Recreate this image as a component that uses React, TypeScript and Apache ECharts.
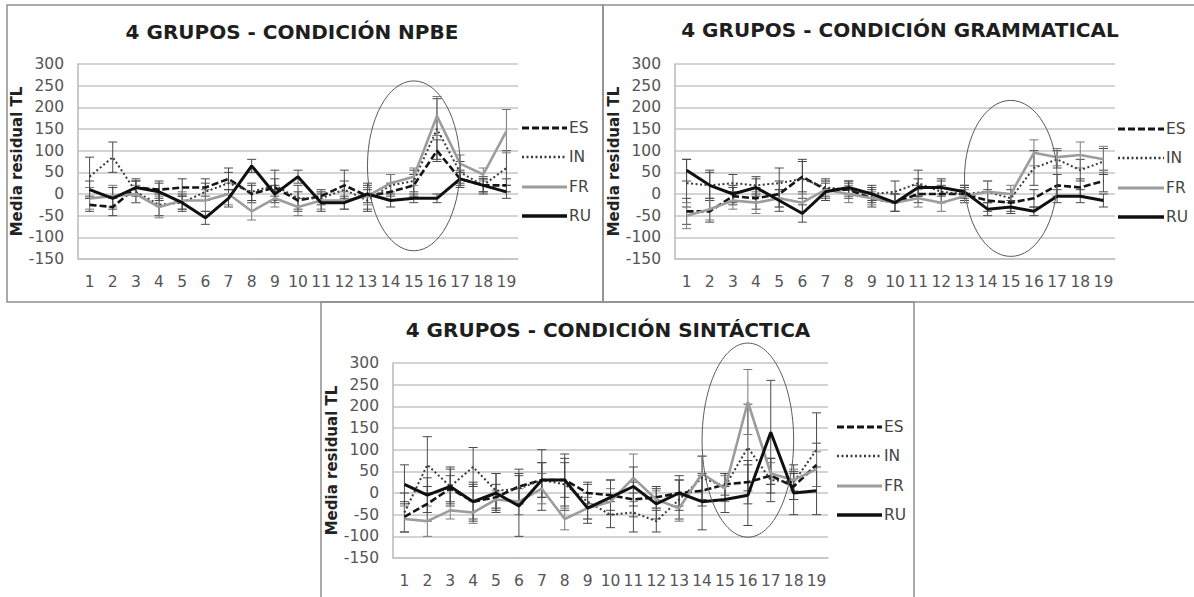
import React, { useEffect, useRef } from 'react';
import * as echarts from 'echarts';

// ---------- data ----------
const categories = ['1','2','3','4','5','6','7','8','9','10','11','12','13','14','15','16','17','18','19'];
const groups = ['ES', 'IN', 'FR', 'RU'];
const titles = ['4 GRUPOS - CONDICIÓN NPBE', '4 GRUPOS - CONDICIÓN GRAMMATICAL', '4 GRUPOS - CONDICIÓN SINTÁCTICA'];
const yAxisName = 'Media residual TL';

// NPBE
const npbeES = [-25, -30, 15, 10, 15, 15, 35, 0, 15, -15, -5, 20, -5, 5, 20, 100, 35, 20, 20];
const npbeIN = [40, 85, 5, -25, -20, 5, 25, 5, 20, -10, -10, 10, -15, 20, 30, 150, 50, 20, 60];
const npbeFR = [-10, -5, 0, -30, -15, -15, 0, -40, -10, -30, -15, -15, -5, 25, 40, 180, 70, 45, 145];
const npbeRU = [10, -10, 15, 5, -20, -55, -10, 65, 0, 40, -20, -20, 0, -15, -10, -10, 35, 20, 5];
const npbeErrES = [15, 20, 20, 20, 20, 20, 25, 20, 20, 20, 15, 35, 30, 20, 25, 25, 20, 15, 15];
const npbeErrIN = [45, 35, 25, 25, 20, 20, 25, 20, 35, 30, 15, 20, 25, 25, 25, 70, 25, 20, 40];
const npbeErrFR = [25, 25, 20, 25, 20, 25, 25, 20, 20, 20, 20, 20, 20, 20, 20, 45, 20, 15, 50];
const npbeErrRU = [20, 25, 15, 20, 15, 15, 20, 15, 20, 15, 20, 15, 20, 15, 10, 10, 15, 15, 15];

// GRAMMATICAL
const gramES = [-40, -40, -5, -10, 0, 40, 10, 10, -10, -20, 0, 0, 0, -15, -20, -10, 20, 15, 30];
const gramIN = [25, 20, 25, 20, 25, 35, 15, 10, 0, 5, 25, 5, 0, 5, -10, 60, 80, 55, 75];
const gramFR = [-50, -35, -15, -20, -10, -20, 10, 0, -10, -20, -10, -20, -5, 5, 0, 95, 85, 90, 80];
const gramRU = [55, 20, 0, 15, -15, -45, 5, 15, 0, -20, 15, 15, 5, -35, -30, -40, -5, -5, -15];
const gramErrES = [30, 25, 20, 25, 30, 35, 20, 15, 20, 20, 20, 20, 15, 25, 20, 20, 25, 20, 25];
const gramErrIN = [55, 35, 20, 20, 35, 45, 20, 20, 15, 25, 30, 25, 20, 25, 20, 40, 20, 25, 30];
const gramErrFR = [30, 25, 20, 25, 20, 20, 20, 20, 15, 20, 20, 20, 15, 25, 20, 30, 20, 30, 30];
const gramErrRU = [25, 30, 20, 20, 25, 20, 20, 15, 20, 20, 20, 20, 15, 15, 15, 10, 15, 15, 15];

// SINTÁCTICA
const sintES = [-55, -25, 10, -20, -10, 15, 30, 30, 0, -5, -15, -10, 0, 5, 20, 25, 40, 15, 65];
const sintIN = [-45, 65, 15, 60, 5, 10, 30, 20, -20, -50, -45, -65, -15, 35, 15, 105, 30, 25, 100];
const sintFR = [-60, -65, -40, -45, -15, -20, 10, -60, -35, -20, 35, -15, -35, 45, 10, 210, 45, 30, 55];
const sintRU = [20, -5, 15, -20, 0, -30, 30, 30, -35, -10, 15, -25, 0, -20, -15, -5, 140, 0, 5];
const sintErrES = [35, 40, 30, 40, 30, 40, 40, 40, 25, 35, 40, 25, 30, 35, 25, 50, 40, 30, 50];
const sintErrIN = [45, 65, 45, 45, 40, 35, 70, 60, 40, 30, 45, 25, 45, 50, 30, 100, 50, 40, 85];
const sintErrFR = [30, 35, 20, 25, 20, 30, 35, 25, 25, 30, 55, 20, 30, 40, 30, 75, 25, 25, 40];
const sintErrRU = [45, 40, 40, 45, 45, 70, 40, 60, 35, 40, 45, 35, 40, 65, 30, 70, 120, 50, 55];

// highlighted region (category index, value) centre and radii
const ellipseCenterCat = [14.4, 14.4, 14.9];
const ellipseCenterVal = [65, 36, 122];
const ellipseRadCat = [1.82, 1.7, 1.72];
const ellipseRadVal = [196, 180, 224];

// ---------- styles / layout ----------
const FONT = 'DejaVu Sans';
const panelValues = [
  [npbeES, npbeIN, npbeFR, npbeRU],
  [gramES, gramIN, gramFR, gramRU],
  [sintES, sintIN, sintFR, sintRU],
];
const panelErrors = [
  [npbeErrES, npbeErrIN, npbeErrFR, npbeErrRU],
  [gramErrES, gramErrIN, gramErrFR, gramErrRU],
  [sintErrES, sintErrIN, sintErrFR, sintErrRU],
];
const grids = [
  { left: 78, top: 64, width: 440, height: 195 },
  { left: 675, top: 64, width: 440, height: 195 },
  { left: 393, top: 363, width: 435, height: 195 },
];
const borders = [
  { x: 7, y: 5, w: 596, h: 297 },
  { x: 603, y: 5, w: 596, h: 297 },
  { x: 321, y: 302, w: 593, h: 300 },
];
const titlePos = [[292, 32], [900, 30], [608, 330]];
const legendX = [[522, 567], [1118, 1164], [837, 882]];
const legendY = [[128, 157, 187, 216], [129, 158, 188, 217], [427, 456, 486, 515]];

const lineStyles: any[] = [
  { color: '#151515', width: 2.6, type: [7, 3] },
  { color: '#3a3a3a', width: 2, type: [2, 2.5] },
  { color: '#9c9c9c', width: 2.6, type: 'solid' },
  { color: '#101010', width: 3, type: 'solid' },
];

function errRender(color: string) {
  return (params: any, api: any) => {
    const x = api.value(0);
    const lo = api.coord([x, api.value(1)]);
    const hi = api.coord([x, api.value(2)]);
    const cw = 4.5;
    const st = { stroke: color, lineWidth: 1 };
    return {
      type: 'group',
      children: [
        { type: 'line', shape: { x1: lo[0], y1: lo[1], x2: hi[0], y2: hi[1] }, style: st },
        { type: 'line', shape: { x1: lo[0] - cw, y1: lo[1], x2: lo[0] + cw, y2: lo[1] }, style: st },
        { type: 'line', shape: { x1: hi[0] - cw, y1: hi[1], x2: hi[0] + cw, y2: hi[1] }, style: st },
      ],
    };
  };
}

export default function App() {
  const ref = useRef<HTMLDivElement>(null);
  useEffect(() => {
    if (!ref.current) return;
    const chart = echarts.init(ref.current, undefined, { renderer: 'svg' });

    const xAxes: any[] = [];
    const yAxes: any[] = [];
    const series: any[] = [];
    for (let p = 0; p < 3; p++) {
      xAxes.push({
        gridIndex: p,
        type: 'category',
        data: categories,
        boundaryGap: true,
        axisLine: { onZero: false, lineStyle: { color: '#c2c2c2', width: 1.5 } },
        axisTick: { show: false },
        axisLabel: { interval: 0, fontFamily: FONT, fontSize: 15.5, color: '#555', margin: 15 },
      });
      yAxes.push({
        gridIndex: p,
        type: 'value',
        min: -150,
        max: 300,
        interval: 50,
        name: yAxisName,
        nameLocation: 'middle',
        nameGap: 50,
        nameTextStyle: { fontFamily: FONT, fontWeight: 'bold', fontSize: 15, color: '#222' },
        axisLine: { show: true, lineStyle: { color: '#b8b8b8', width: 1.5 } },
        axisTick: { show: false },
        axisLabel: { fontFamily: FONT, fontSize: 15.5, color: '#555', margin: 14 },
        splitLine: { show: true, lineStyle: { color: '#c6c6c6', width: 1.5 } },
      });
      for (let g = 0; g < 4; g++) {
        const vals = panelValues[p][g];
        const errs = panelErrors[p][g];
        series.push({
          type: 'custom',
          name: groups[g] + ' err',
          xAxisIndex: p,
          yAxisIndex: p,
          renderItem: errRender(g === 2 ? '#7a7a7a' : '#4a4a4a'),
          encode: { x: 0, y: [1, 2] },
          data: vals.map((v, i) => [i, v - errs[i], v + errs[i]]),
          z: 1,
          silent: true,
        });
      }
      for (let g = 0; g < 4; g++) {
        series.push({
          type: 'line',
          name: groups[g],
          xAxisIndex: p,
          yAxisIndex: p,
          data: panelValues[p][g],
          showSymbol: false,
          symbol: 'none',
          lineStyle: lineStyles[g],
          z: 3 + g,
        });
      }
    }

    chart.setOption({
      animation: false,
      backgroundColor: '#ffffff',
      grid: grids,
      xAxis: xAxes,
      yAxis: yAxes,
      series,
    });

    const elements: any[] = [];
    for (let p = 0; p < 3; p++) {
      const b = borders[p];
      elements.push({
        type: 'rect',
        shape: { x: b.x, y: b.y, width: b.w, height: b.h },
        style: { fill: 'none', stroke: '#8e8e8e', lineWidth: 1.5 },
        z: 0,
      });
    }
    for (let p = 0; p < 3; p++) {
      elements.push({
        type: 'text',
        x: titlePos[p][0],
        y: titlePos[p][1],
        style: {
          text: titles[p],
          fill: '#1e1e1e',
          font: `bold 20px "${FONT}"`,
          textAlign: 'center',
          textVerticalAlign: 'middle',
        },
        z: 10,
      });
      for (let g = 0; g < 4; g++) {
        const y = legendY[p][g];
        const ls = lineStyles[g];
        elements.push({
          type: 'line',
          shape: { x1: legendX[p][0], y1: y, x2: legendX[p][1], y2: y },
          style: {
            stroke: ls.color,
            lineWidth: ls.width + 0.6,
            lineDash: Array.isArray(ls.type) ? ls.type : null,
          },
          z: 10,
        });
        elements.push({
          type: 'text',
          x: legendX[p][1] + 2,
          y,
          style: {
            text: groups[g],
            fill: '#444',
            font: `15.5px "${FONT}"`,
            textAlign: 'left',
            textVerticalAlign: 'middle',
          },
          z: 10,
        });
      }
      const c = chart.convertToPixel({ gridIndex: p } as any, [ellipseCenterCat[p], ellipseCenterVal[p]]) as number[];
      const a = chart.convertToPixel({ gridIndex: p } as any, [ellipseCenterCat[p] + ellipseRadCat[p], ellipseCenterVal[p] + ellipseRadVal[p]]) as number[];
      if (c && a) {
        elements.push({
          type: 'ellipse',
          shape: { cx: c[0], cy: c[1], rx: Math.abs(a[0] - c[0]), ry: Math.abs(a[1] - c[1]) },
          style: { fill: 'none', stroke: '#5a5a5a', lineWidth: 1 },
          z: 9,
        });
      }
    }
    chart.setOption({ graphic: { elements } });

    return () => chart.dispose();
  }, []);

  return (
    <div
      ref={ref}
      style={{ position: 'absolute', left: 0, top: 0, width: 1194, height: 597, background: '#fff' }}
    />
  );
}
